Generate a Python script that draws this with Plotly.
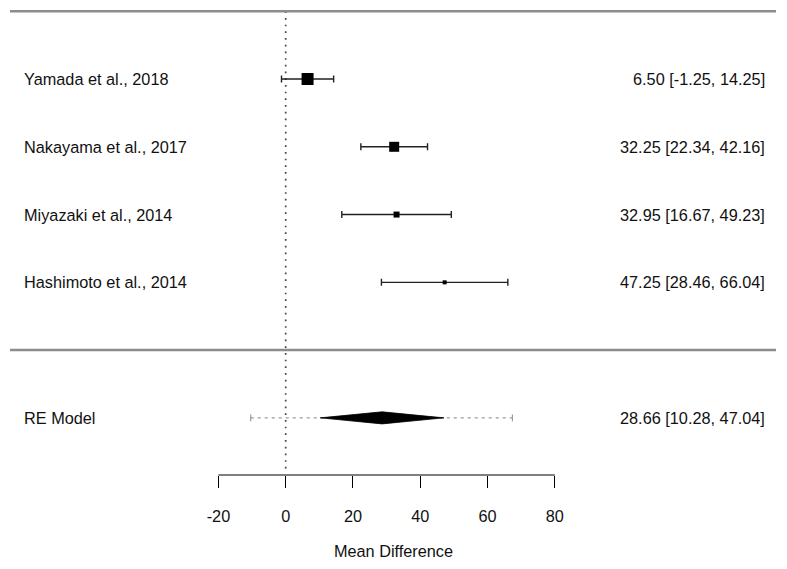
import plotly.graph_objects as go

# ---- data ----
studies = ["Yamada et al., 2018", "Nakayama et al., 2017", "Miyazaki et al., 2014", "Hashimoto et al., 2014"]
estimates = [6.50, 32.25, 32.95, 47.25]
ci_lower = [-1.25, 22.34, 16.67, 28.46]
ci_upper = [14.25, 42.16, 49.23, 66.04]
rows = [4, 3, 2, 1]

model_label = "RE Model"
model_est = 28.66
model_lb = 10.28
model_ub = 47.04
pi_lb = -10.4
pi_ub = 67.4
model_row = -1

tick_vals = [-20, 0, 20, 40, 60, 80]
tick_text = ["-20", "0", "20", "40", "60", "80"]
x_title = "Mean Difference"

# ---- style ----
marker_sizes = [12, 10, 6, 4]
FONT = "Liberation Sans, Arial, Helvetica, sans-serif"
TXT = "#111111"
FS = 16.3
X_RANGE = [-84.93, 149.02]
Y_RANGE = [-1.843, 5.166]
LINE_X = [-81.96, 145.75]
LEFT_X = -78.45
RIGHT_X = 143.07
DIA_H = 0.089

fig = go.Figure()

# reference line at 0
fig.add_trace(go.Scatter(x=[0, 0], y=[5, -1.80], mode="lines",
                         line=dict(color="#444444", width=1.7, dash="1.7px,5px"),
                         hoverinfo="skip", showlegend=False))

# separator lines
for yy in [5, 0]:
    fig.add_trace(go.Scatter(x=LINE_X, y=[yy, yy], mode="lines",
                             line=dict(color="#8c8c8c", width=2.5),
                             hoverinfo="skip", showlegend=False))

# study CIs and squares
fig.add_trace(go.Scatter(
    x=estimates, y=rows, mode="markers",
    marker=dict(symbol="square", size=marker_sizes, color="black", opacity=1, line=dict(width=0)),
    error_x=dict(type="data", symmetric=False,
                 array=[u - e for u, e in zip(ci_upper, estimates)],
                 arrayminus=[e - l for e, l in zip(estimates, ci_lower)],
                 color="#222222", thickness=1.4, width=3.5),
    hoverinfo="skip", showlegend=False))

# prediction interval
fig.add_trace(go.Scatter(x=[pi_lb, pi_ub], y=[model_row, model_row], mode="lines",
                         line=dict(color="#9a9a9a", width=1.2, dash="3px,4px"),
                         hoverinfo="skip", showlegend=False))
for xv in [pi_lb, pi_ub]:
    fig.add_trace(go.Scatter(x=[xv, xv], y=[model_row - 0.05, model_row + 0.05], mode="lines",
                             line=dict(color="#9a9a9a", width=1.2),
                             hoverinfo="skip", showlegend=False))

# diamond
fig.add_trace(go.Scatter(
    x=[model_lb, model_est, model_ub, model_est, model_lb],
    y=[model_row, model_row + DIA_H, model_row, model_row - DIA_H, model_row],
    mode="lines", fill="toself", fillcolor="black",
    line=dict(color="black", width=0.8),
    hoverinfo="skip", showlegend=False))

# x axis line (only across tick span)
fig.add_shape(type="line", xref="x", yref="paper",
              x0=tick_vals[0], x1=tick_vals[-1], y0=0, y1=0,
              line=dict(color="black", width=1.2))

# text annotations
annots = []
for s, e, l, u, r in zip(studies, estimates, ci_lower, ci_upper, rows):
    annots.append(dict(x=LEFT_X, y=r, text=s, xanchor="left", yanchor="middle", showarrow=False))
    annots.append(dict(x=RIGHT_X, y=r, text=f"{e:.2f} [{l:.2f}, {u:.2f}]",
                       xanchor="right", yanchor="middle", showarrow=False))
annots.append(dict(x=LEFT_X, y=model_row, text=model_label, xanchor="left", yanchor="middle", showarrow=False))
annots.append(dict(x=RIGHT_X, y=model_row, text=f"{model_est:.2f} [{model_lb:.2f}, {model_ub:.2f}]",
                   xanchor="right", yanchor="middle", showarrow=False))
for a in annots:
    a["xref"] = "x"
    a["yref"] = "y"
    a["font"] = dict(family=FONT, size=FS, color=TXT)

fig.update_layout(
    width=787, height=569,
    margin=dict(l=0, r=0, t=0, b=94, pad=0),
    paper_bgcolor="white", plot_bgcolor="white",
    font=dict(family=FONT, size=FS, color=TXT),
    annotations=annots,
    hovermode=False,
    xaxis=dict(range=X_RANGE, showgrid=False, zeroline=False, showline=False,
               tickmode="array", tickvals=tick_vals, ticktext=tick_text,
               ticks="outside", ticklen=12, tickwidth=1, tickcolor="black",
               ticklabelstandoff=14,
               tickfont=dict(family=FONT, size=FS, color=TXT),
               title=dict(text=x_title, font=dict(family=FONT, size=FS, color=TXT), standoff=22)),
    yaxis=dict(range=Y_RANGE, visible=False, showgrid=False, zeroline=False),
)

fig.write_html("out.html", config={"displayModeBar": False, "staticPlot": True},
               post_script="document.body.style.margin='0';document.body.style.overflow='hidden';")
